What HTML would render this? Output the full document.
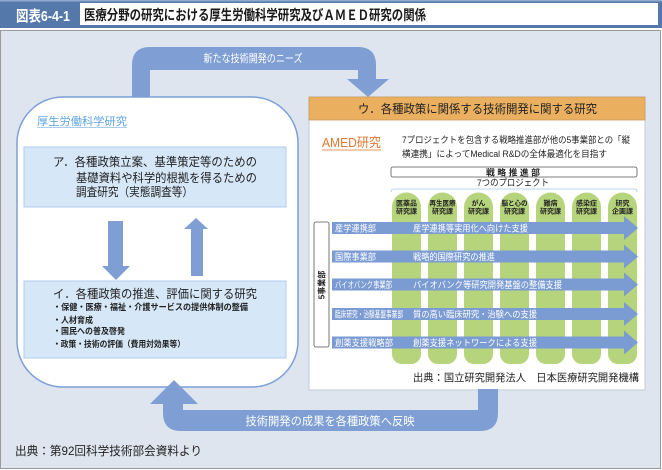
<!DOCTYPE html>
<html><head><meta charset="utf-8">
<style>
html,body{margin:0;padding:0;background:#fff;}
svg{display:block;}
text{font-family:"Liberation Sans","Noto Sans CJK JP",sans-serif;}
</style></head>
<body>
<svg width="662" height="470" viewBox="0 0 662 470" xmlns="http://www.w3.org/2000/svg">
  <!-- title bar -->
  <rect x="0" y="0" width="662" height="28" fill="#5578aa"/>
  <rect x="0" y="0" width="662" height="1.5" fill="#8fa9cc"/>
  <rect x="80" y="3" width="578" height="22" fill="#ffffff"/>
  <text x="16" y="21" font-size="15" font-weight="bold" fill="#ffffff" textLength="54" lengthAdjust="spacingAndGlyphs">図表6-4-1</text>
  <text x="84" y="20" font-size="14" font-weight="bold" fill="#1a1a1a" textLength="342" lengthAdjust="spacingAndGlyphs">医療分野の研究における厚生労働科学研究及びＡＭＥＤ研究の関係</text>

  <!-- frame -->
  <rect x="0.5" y="30.5" width="660" height="438" fill="#dee5ee" stroke="#9a9a9a" stroke-width="1"/>

  <!-- top arrow -->
  <path d="M132,100 L132,65 Q132,47 150,47 L358,47 Q376,47 376,65 L376,79 L389,79 L368,97 L347,79 L358,79 L358,70 L150,70 L150,100 Z" fill="#7e9ed4"/>
  <text x="253" y="62" font-size="11" fill="#ffffff" text-anchor="middle" textLength="99" lengthAdjust="spacingAndGlyphs">新たな技術開発のニーズ</text>

  <!-- left panel -->
  <rect x="17" y="97" width="281" height="290" rx="46" ry="46" fill="#ffffff" stroke="#7c9fd6" stroke-width="1.5"/>
  <text x="37" y="125" font-size="11" fill="#5ea3e0" textLength="90" lengthAdjust="spacingAndGlyphs">厚生労働科学研究</text>
  <line x1="37" y1="127.5" x2="127" y2="127.5" stroke="#8fbbe8" stroke-width="0.8"/>

  <!-- box A -->
  <rect x="24" y="147" width="262" height="60" fill="#d6e7f8" stroke="#aecdee" stroke-width="1"/>
  <text x="53" y="166" font-size="12" fill="#222" textLength="204" lengthAdjust="spacingAndGlyphs">ア．各種政策立案、基準策定等のための</text>
  <text x="76" y="182" font-size="12" fill="#222" textLength="181" lengthAdjust="spacingAndGlyphs">基礎資料や科学的根拠を得るための</text>
  <text x="76" y="196" font-size="12" fill="#222" textLength="117" lengthAdjust="spacingAndGlyphs">調査研究（実態調査等）</text>

  <!-- down/up arrows -->
  <path d="M108,221 L123,221 L123,266 L130,266 L116,280 L102,266 L108,266 Z" fill="#7e9ed4"/>
  <path d="M191,276 L203,276 L203,229 L208,229 L196,218 L184,229 L191,229 Z" fill="#7e9ed4"/>

  <!-- box I -->
  <rect x="24" y="281" width="262" height="77" fill="#d6e7f8" stroke="#aecdee" stroke-width="1"/>
  <text x="53" y="298" font-size="12" fill="#222" textLength="204" lengthAdjust="spacingAndGlyphs">イ．各種政策の推進、評価に関する研究</text>
  <text x="53" y="310" font-size="8.5" font-weight="bold" fill="#222" textLength="195" lengthAdjust="spacingAndGlyphs">・保健・医療・福祉・介護サービスの提供体制の整備</text>
  <text x="53" y="323" font-size="8.5" font-weight="bold" fill="#222" textLength="40" lengthAdjust="spacingAndGlyphs">・人材育成</text>
  <text x="53" y="334" font-size="8.5" font-weight="bold" fill="#222" textLength="72" lengthAdjust="spacingAndGlyphs">・国民への普及啓発</text>
  <text x="53" y="347" font-size="8.5" font-weight="bold" fill="#222" textLength="132" lengthAdjust="spacingAndGlyphs">・政策・技術の評価（費用対効果等）</text>

  <!-- right panel -->
  <rect x="309" y="97" width="336" height="293" fill="#ffffff" stroke="#c3cad6" stroke-width="1"/>
  <rect x="309" y="97" width="336" height="23" fill="#eab060" stroke="#c99a5a" stroke-width="0.8"/>
  <text x="358" y="113" font-size="12" fill="#222" textLength="239" lengthAdjust="spacingAndGlyphs">ウ．各種政策に関係する技術開発に関する研究</text>

  <text x="322" y="147" font-size="13" fill="#e2772f" textLength="59" lengthAdjust="spacingAndGlyphs">AMED研究</text>
  <line x1="322" y1="150" x2="381" y2="150" stroke="#e2772f" stroke-width="0.8"/>
  <text x="402" y="143" font-size="9" fill="#222" textLength="228" lengthAdjust="spacingAndGlyphs">7プロジェクトを包含する戦略推進部が他の5事業部との「縦</text>
  <text x="402" y="157" font-size="9" fill="#222" textLength="205" lengthAdjust="spacingAndGlyphs">横連携」によってMedical R&amp;Dの全体最適化を目指す</text>

  <rect x="391" y="167" width="246" height="10" rx="2" fill="#ffffff" stroke="#555" stroke-width="0.8"/>
  <text x="513" y="175.5" font-size="8.5" font-weight="bold" fill="#222" text-anchor="middle" textLength="54" lengthAdjust="spacingAndGlyphs">戦 略 推 進 部</text>
  <text x="513" y="186" font-size="9.5" fill="#222" text-anchor="middle" textLength="72" lengthAdjust="spacingAndGlyphs">7つのプロジェクト</text>
  <path d="M391,192 Q391,189 394,189 L634,189 Q637,189 637,192" fill="none" stroke="#a9c6ea" stroke-width="0.8"/>

  <!-- green columns -->
  <g fill="#b6d47b">
    <path d="M392,364 L392,207 A14.5,14.5 0 0 1 421,207 L421,354 A10,10 0 0 1 411,364 L402,364 A10,10 0 0 1 392,354 Z"/>
    <path d="M428,364 L428,207 A14.5,14.5 0 0 1 457,207 L457,354 A10,10 0 0 1 447,364 L438,364 A10,10 0 0 1 428,354 Z"/>
    <path d="M464,364 L464,207 A14.5,14.5 0 0 1 493,207 L493,354 A10,10 0 0 1 483,364 L474,364 A10,10 0 0 1 464,354 Z"/>
    <path d="M500,364 L500,207 A14.5,14.5 0 0 1 529,207 L529,354 A10,10 0 0 1 519,364 L510,364 A10,10 0 0 1 500,354 Z"/>
    <path d="M536,364 L536,207 A14.5,14.5 0 0 1 565,207 L565,354 A10,10 0 0 1 555,364 L546,364 A10,10 0 0 1 536,354 Z"/>
    <path d="M572,364 L572,207 A14.5,14.5 0 0 1 601,207 L601,354 A10,10 0 0 1 591,364 L582,364 A10,10 0 0 1 572,354 Z"/>
    <path d="M608,364 L608,207 A14.5,14.5 0 0 1 637,207 L637,354 A10,10 0 0 1 627,364 L618,364 A10,10 0 0 1 608,354 Z"/>
  </g>
  <g font-size="7" font-weight="bold" fill="#222" text-anchor="middle">
    <text x="406.5" y="205.5">医薬品</text><text x="406.5" y="213.5">研究課</text>
    <text x="442.5" y="205.5" textLength="26" lengthAdjust="spacingAndGlyphs">再生医療</text><text x="442.5" y="213.5">研究課</text>
    <text x="478.5" y="205.5">がん</text><text x="478.5" y="213.5">研究課</text>
    <text x="514.5" y="205.5" textLength="26" lengthAdjust="spacingAndGlyphs">脳と心の</text><text x="514.5" y="213.5">研究課</text>
    <text x="550.5" y="205.5">難病</text><text x="550.5" y="213.5">研究課</text>
    <text x="586.5" y="205.5">感染症</text><text x="586.5" y="213.5">研究課</text>
    <text x="622.5" y="205.5">研究</text><text x="622.5" y="213.5">企画課</text>
  </g>

  <!-- horizontal arrows -->
  <g fill="#7b9bd3">
    <path d="M332,222 L624,222 L624,216 L638,228 L624,240 L624,234 L332,234 Z"/>
    <path d="M332,250.5 L624,250.5 L624,244.5 L638,256.5 L624,268.5 L624,262.5 L332,262.5 Z"/>
    <path d="M332,278.5 L624,278.5 L624,272.5 L638,284.5 L624,296.5 L624,290.5 L332,290.5 Z"/>
    <path d="M332,308 L624,308 L624,302 L638,314 L624,326 L624,320 L332,320 Z"/>
    <path d="M332,336.5 L624,336.5 L624,330.5 L638,342.5 L624,354.5 L624,348.5 L332,348.5 Z"/>
  </g>
  <g font-size="9" fill="#ffffff">
    <text x="335" y="231.5" textLength="41" lengthAdjust="spacingAndGlyphs">産学連携部</text>
    <text x="413" y="231.5" textLength="115" lengthAdjust="spacingAndGlyphs">産学連携等実用化へ向けた支援</text>
    <text x="335" y="260" textLength="41" lengthAdjust="spacingAndGlyphs">国際事業部</text>
    <text x="413" y="260" textLength="82" lengthAdjust="spacingAndGlyphs">戦略的国際研究の推進</text>
    <text x="335" y="288" textLength="57" lengthAdjust="spacingAndGlyphs">バイオバンク事業部</text>
    <text x="413" y="288" textLength="149" lengthAdjust="spacingAndGlyphs">バイオバンク等研究開発基盤の整備支援</text>
    <text x="335" y="317.5" textLength="68" lengthAdjust="spacingAndGlyphs">臨床研究・治験基盤事業部</text>
    <text x="413" y="317.5" textLength="124" lengthAdjust="spacingAndGlyphs">質の高い臨床研究・治験への支援</text>
    <text x="335" y="346" textLength="58" lengthAdjust="spacingAndGlyphs">創薬支援戦略部</text>
    <text x="413" y="346" textLength="124" lengthAdjust="spacingAndGlyphs">創薬支援ネットワークによる支援</text>
  </g>

  <!-- 5 divisions label -->
  <rect x="314" y="222" width="15" height="125" rx="2" fill="#ffffff" stroke="#555" stroke-width="0.8"/>
  <text x="0" y="0" font-size="8" font-weight="bold" fill="#222" text-anchor="middle" transform="translate(324.5,285) rotate(-90)">5事業部</text>

  <text x="639" y="381" font-size="10.5" fill="#222" text-anchor="end" textLength="226" lengthAdjust="spacingAndGlyphs">出典：国立研究開発法人　日本医療研究開発機構</text>

  <!-- bottom arrow -->
  <path d="M163,404 L150,404 L174,380 L198,404 L183,404 L183,410 L478,410 L478,389 L498,389 L498,413 Q498,431 480,431 L181,431 Q163,431 163,413 Z" fill="#7e9ed4"/>
  <text x="330" y="425" font-size="11.5" fill="#ffffff" text-anchor="middle" textLength="169" lengthAdjust="spacingAndGlyphs">技術開発の成果を各種政策へ反映</text>

  <!-- footer -->
  <text x="15" y="455" font-size="12" fill="#222" textLength="187" lengthAdjust="spacingAndGlyphs">出典：第92回科学技術部会資料より</text>
</svg>
</body></html>
